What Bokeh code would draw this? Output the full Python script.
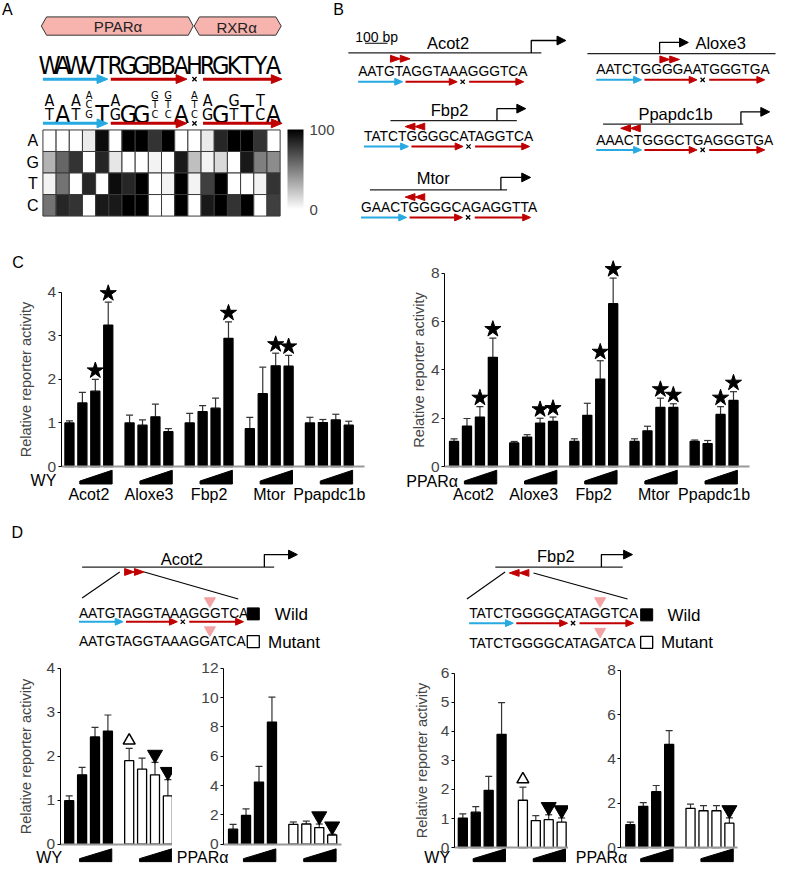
import numpy as np
from bokeh.plotting import figure
from bokeh.layouts import column, row
from bokeh.models import (Range1d, LinearAxis, FixedTicker, ColumnDataSource, Whisker,
                          TeeHead, LinearColorMapper, ColorBar)
from bokeh.core.properties import value
from bokeh.palettes import Greys256
from bokeh.embed import file_html
from bokeh.resources import INLINE

# ============================ DATA ============================
# Panel A: motif logo + heat map (0-100)
logo_consensus = list("WAWVTRGGBBAHRGKTYA")
logo_degenerate = ["AT", "A", "AT", "ACG", "T", "AG", "G", "G", "GTC", "GTC",
                   "A", "ATC", "AG", "G", "GT", "T", "TC", "A"]
heat_bases = ["A", "G", "T", "C"]
heat_A = [0, 0, 0, 8, 95, 0, 100, 100, 80, 100, 0, 0, 8, 85, 100, 100, 80, 0]
heat_G = [30, 60, 80, 0, 85, 10, 0, 0, 5, 0, 90, 25, 5, 15, 0, 90, 50, 45]
heat_T = [5, 55, 0, 85, 0, 95, 85, 100, 0, 5, 100, 5, 75, 100, 0, 0, 5, 80]
heat_C = [55, 85, 80, 0, 90, 90, 100, 100, 0, 0, 100, 0, 90, 100, 80, 100, 0, 75]
heat_ticks = [0, 100]

# Panel B: promoter response elements
b_genes = ["Acot2", "Aloxe3", "Fbp2", "Ppapdc1b", "Mtor"]
b_seqs = ["AATGTAGGTAAAGGGTCA", "AATCTGGGGAATGGGTGA", "TATCTGGGGCATAGGTCA",
          "AAACTGGGCTGAGGGTGA", "GAACTGGGGCAGAGGTTA"]
b_strand = ["+", "+", "-", "-", "-"]

# Panel C
c_genes = ["Acot2", "Aloxe3", "Fbp2", "Mtor", "Ppapdc1b"]
c_wy_mean = [[1.00, 1.46, 1.73, 3.24], [1.00, 0.95, 1.14, 0.80], [1.00, 1.26, 1.34, 2.94],
             [0.87, 1.67, 2.31, 2.30], [1.00, 1.01, 1.07, 0.95]]
c_wy_err = [[0.05, 0.24, 0.27, 0.53], [0.18, 0.12, 0.29, 0.07], [0.22, 0.14, 0.23, 0.38],
            [0.26, 0.61, 0.29, 0.25], [0.13, 0.07, 0.13, 0.09]]
c_wy_sig = [[0, 0, 1, 1], [0, 0, 0, 0], [0, 0, 0, 1], [0, 0, 1, 1], [0, 0, 0, 0]]
c_pp_mean = [[1.04, 1.67, 2.05, 4.52], [0.98, 1.22, 1.80, 1.87], [1.04, 2.12, 3.62, 6.74],
             [1.04, 1.48, 2.45, 2.45], [1.04, 0.95, 2.16, 2.74]]
c_pp_err = [[0.11, 0.32, 0.43, 0.80], [0.06, 0.10, 0.20, 0.18], [0.11, 0.50, 0.76, 1.06],
            [0.11, 0.19, 0.38, 0.15], [0.06, 0.13, 0.32, 0.36]]
c_pp_sig = [[0, 0, 1, 1], [0, 0, 1, 1], [0, 0, 1, 1], [0, 0, 1, 1], [0, 0, 1, 1]]
c_wy_ticks = [0, 1, 2, 3, 4]
c_pp_ticks = [0, 2, 4, 6, 8]

# Panel D
d_seq_acot2 = ["AATGTAGGTAAAGGGTCA", "AATGTAGGTAAAGGATCA"]
d_seq_fbp2 = ["TATCTGGGGCATAGGTCA", "TATCTGGGGCATAGATCA"]
d_variants = ["Wild", "Mutant"]
d_acot2_wy_wild = [0.99, 1.58, 2.44, 2.57]
d_acot2_wy_wild_err = [0.11, 0.17, 0.22, 0.37]
d_acot2_wy_mut = [1.90, 1.71, 1.58, 1.10]
d_acot2_wy_mut_err = [0.28, 0.25, 0.28, 0.37]
d_acot2_wy_mark = ["up", None, "down", "down"]
d_acot2_pp_wild = [1.03, 1.96, 4.24, 8.33]
d_acot2_pp_wild_err = [0.33, 0.45, 1.07, 1.71]
d_acot2_pp_mut = [1.36, 1.38, 1.14, 0.63]
d_acot2_pp_mut_err = [0.16, 0.20, 0.24, 0.06]
d_acot2_pp_mark = [None, None, "down", "down"]
d_fbp2_wy_wild = [1.01, 1.22, 1.97, 3.90]
d_fbp2_wy_wild_err = [0.15, 0.19, 0.48, 1.09]
d_fbp2_wy_mut = [1.63, 0.93, 0.96, 0.88]
d_fbp2_wy_mut_err = [0.45, 0.17, 0.17, 0.14]
d_fbp2_wy_mark = ["up", None, "down", "down"]
d_fbp2_pp_wild = [1.03, 1.86, 2.52, 4.65]
d_fbp2_pp_wild_err = [0.12, 0.17, 0.28, 0.62]
d_fbp2_pp_mut = [1.77, 1.66, 1.66, 1.10]
d_fbp2_pp_mut_err = [0.19, 0.23, 0.23, 0.24]
d_fbp2_pp_mark = [None, None, None, "down"]
d_acot2_wy_ticks = [0, 1, 2, 3, 4]
d_acot2_pp_ticks = [0, 2, 4, 6, 8, 10, 12]
d_fbp2_wy_ticks = [0, 1, 2, 3, 4, 5, 6]
d_fbp2_pp_ticks = [0, 2, 4, 6, 8]

YLABEL = "Relative reporter activity"

# ============================ STYLE ============================
FONT = value("Liberation Sans")
NARROW = value("DejaVu Sans Condensed")
BLUE = "#27a9e1"
RED = "#c00000"
PINK = "#f3a3a3"
TOTAL_W, TOTAL_H = 776, 868
REF_W, REF_H = 792, 884
SX, SY = TOTAL_W / REF_W, TOTAL_H / REF_H


def base_fig(w, h, xr, yr):
    p = figure(width=w, height=h, x_range=Range1d(*xr), y_range=Range1d(*yr),
               x_axis_type=None, y_axis_type=None, toolbar_location=None,
               output_backend="svg", min_border=0, outline_line_color=None)
    p.border_fill_color = "white"
    p.background_fill_color = "white"
    return p


def txt(p, x, y, s, size, align="center", baseline="middle", font=FONT, color="black", angle=0.0):
    p.text(x=[x], y=[y], text=[s], text_font=font, text_font_size=value(f"{size}px"),
           text_align=align, text_baseline=baseline, text_color=color, angle=angle)


def h_arrow(p, x0, x1, y, color, lw=2.0, hl=8.0, hh=7.0):
    p.segment(x0=[x0], y0=[y], x1=[x1 - hl + 1], y1=[y], line_color=color, line_width=lw)
    p.patch([x1 - hl, x1, x1 - hl], [y - hh / 2, y, y + hh / 2], color=color)


def motif_arrows(p, x0, cw, y, lw=2.0, hl=8.0, hh=7.0, xsize=6):
    h_arrow(p, x0, x0 + 5 * cw - 1, y, BLUE, lw, hl, hh)
    h_arrow(p, x0 + 5 * cw + 2, x0 + 11 * cw - 1, y, RED, lw, hl, hh)
    p.scatter([x0 + 11.5 * cw], [y], marker="x", size=xsize, line_color="black", line_width=1.3)
    h_arrow(p, x0 + 12 * cw + 2, x0 + 18 * cw + 2, y, RED, lw, hl, hh)


def double_heads(p, x0, y, strand, w=10.0, h=7.0):
    for k in range(2):
        if strand == "+":
            base, tip = x0 + k * w, x0 + (k + 1) * w
        else:
            tip, base = x0 + k * w, x0 + (k + 1) * w
        p.patch([base, tip, base], [y - h / 2, y, y + h / 2], color=RED)


def promoter(p, x, y_line, y_top, x_tip):
    p.line([x, x, x_tip - 8], [y_line, y_top, y_top], line_color="black", line_width=1.3)
    p.patch([x_tip - 9, x_tip, x_tip - 9], [y_top - 4.5, y_top, y_top + 4.5], color="black")


# ============================ TOP: panels A and B ============================
TOP_REF_H = 235
h_top = round(TOP_REF_H * SY)
top = base_fig(TOTAL_W, h_top, (0, REF_W), (TOP_REF_H, 0))

# --- Panel A
txt(top, 7, 9, "A", 16)
top.patch([41.7, 47, 191.7, 196.7, 191.7, 47], [26, 16.7, 16.7, 26, 35.3, 35.3],
          fill_color="#f7b3ad", line_color="#333333", line_width=1)
top.patch([197.7, 203, 281, 286.5, 281, 203], [26, 16.7, 16.7, 26, 35.3, 35.3],
          fill_color="#f7b3ad", line_color="#333333", line_width=1)
txt(top, 120, 26.5, "PPARα", 15, color="#222222")
txt(top, 241, 27, "RXRα", 15, color="#222222")

COL_X0, COL_W = 43.3, 13.45
col_cx = [COL_X0 + COL_W * (i + 0.5) for i in range(len(logo_consensus))]
top.text(x=col_cx, y=[66] * len(col_cx), text=logo_consensus, text_font=NARROW,
         text_font_size=value("25px"), text_align="center", text_baseline="alphabetic")
motif_arrows(top, COL_X0, COL_W, 80, lw=3, hl=11, hh=9, xsize=6)

# degenerate letters
sizes = {1: 25, 2: 16, 3: 11}
for cx, letters in zip(col_cx, logo_degenerate):
    n = len(letters)
    fs = sizes[n]
    step = 28.0 / n
    for k, ch in enumerate(letters):
        base = 115.5 - (n - 1 - k) * step
        txt(top, cx, base, ch, fs, baseline="alphabetic", font=NARROW)
motif_arrows(top, COL_X0, COL_W, 125, lw=3, hl=11, hh=9, xsize=6)

# heat map
ROW_Y0, ROW_H = 131.7, 21.9
heat_rows = [heat_A, heat_G, heat_T, heat_C]
hx, hy, hv = [], [], []
for r, vals in enumerate(heat_rows):
    for c, v in enumerate(vals):
        hx.append(col_cx[c])
        hy.append(ROW_Y0 + ROW_H * (r + 0.5))
        hv.append(v)
mapper = LinearColorMapper(palette=list(reversed(Greys256)), low=heat_ticks[0], high=heat_ticks[-1])
top.rect(x="x", y="y", width=COL_W, height=ROW_H,
         source=ColumnDataSource(dict(x=hx, y=hy, v=hv)),
         fill_color={"field": "v", "transform": mapper}, line_color="#3a3a3a", line_width=1)
for r, b in enumerate(heat_bases):
    txt(top, 33, ROW_Y0 + ROW_H * (r + 0.5), b, 16)
cb = ColorBar(color_mapper=mapper, location=(round(293 * SX), round((TOP_REF_H - 213) * SY)),
              width=16, height=round(81 * SY), padding=0,
              ticker=FixedTicker(ticks=heat_ticks), major_tick_line_color=None,
              minor_tick_line_color=None, major_label_text_font="Liberation Sans",
              major_label_text_font_size="15px", label_standoff=6, bar_line_color=None,
              border_line_color=None, background_fill_alpha=0)
top.add_layout(cb)

# --- Panel B
txt(top, 345, 9, "B", 16)
txt(top, 362, 37, "100 bp", 14, align="left")
top.segment(x0=[372], y0=[43.5], x1=[395], y1=[43.5], line_color="black", line_width=1.2)
b_layout = {
    "Acot2": dict(line=(355, 552, 53.3), prom=(541.7, 40.7, 577), label=(456.7, 43.3),
                  heads=(398, 59.3), seq=(365, 532, 72.7)),
    "Aloxe3": dict(line=(599, 791, 54), prom=(672.7, 42.7, 702), label=(735, 43.3),
                   heads=(673, 60), seq=(608, 778, 70.7)),
    "Fbp2": dict(line=(398, 527, 122.3), prom=(506.7, 110, 536), label=(458.3, 111.7),
                 heads=(413, 128.3), seq=(371, 538, 138.5)),
    "Ppapdc1b": dict(line=(615, 758, 125.7), prom=(755.7, 113.3, 785), label=(689, 115.5),
                     heads=(633, 130), seq=(608, 778, 142)),
    "Mtor": dict(line=(377, 517, 192.7), prom=(510.7, 180, 541), label=(441.7, 180.7),
                 heads=(413, 200), seq=(368, 539, 210.7)),
}
for g, s, strand in zip(b_genes, b_seqs, b_strand):
    L = b_layout[g]
    x0, x1, ly = L["line"]
    top.segment(x0=[x0], y0=[ly], x1=[x1], y1=[ly], line_color="#222222", line_width=1.2)
    promoter(top, L["prom"][0], ly, L["prom"][1], L["prom"][2])
    txt(top, L["label"][0], L["label"][1], g, 16.5)
    double_heads(top, L["heads"][0], L["heads"][1], strand)
    sx0, sx1, sy = L["seq"]
    txt(top, sx0, sy, s, 13.8, align="left")
    motif_arrows(top, sx0, (sx1 - sx0) / 18.0, sy + 10)

# ============================ BAR CHARTS ============================
XU, GSTEP, BW = 13.2, 4.65, 0.7


def bar_chart(w, h, box, X0, axisX, Y0, ppu, ticks, groups, ylabel, ystand,
              dose, dose_right, dose_y, wedge_y, genes=None, gene_y=None, base_ext=1.2,
              panel=None):
    L, R, T, B = box
    fx = lambda px: (px - X0) / XU
    fy = lambda py: (Y0 - py) / ppu
    p = base_fig(w, h, (fx(L), fx(R)), (fy(B), fy(T)))
    xs, means, tops, fills = [], [], [], []
    marks = {"star": ([], []), "up": ([], []), "down": ([], [])}
    for gi, (mean, err, fill, mk) in enumerate(groups):
        for i in range(len(mean)):
            x = gi * GSTEP + i
            xs.append(x)
            means.append(mean[i])
            tops.append(mean[i] + err[i])
            fills.append(fill)
            if mk[i]:
                off = 9.0 if mk[i] == "star" else 8.0
                marks[mk[i]][0].append(x)
                marks[mk[i]][1].append(mean[i] + err[i] + off / ppu)
    src = ColumnDataSource(dict(x=xs, mean=means, top=tops, fill=fills))
    p.vbar(x="x", top="mean", bottom=0, width=BW, fill_color="fill", line_color="black",
           line_width=1.3, source=src)
    p.add_layout(Whisker(source=src, base="x", lower="mean", upper="top", dimension="height",
                         lower_head=None,
                         upper_head=TeeHead(size=7, line_color="#333333", line_width=1.2),
                         line_color="#333333", line_width=1.2))
    if marks["star"][0]:
        p.scatter(marks["star"][0], marks["star"][1], marker="star", size=17, color="black")
    if marks["up"][0]:
        p.scatter(marks["up"][0], marks["up"][1], marker="triangle", size=12,
                  fill_color="white", line_color="black", line_width=1.5)
    if marks["down"][0]:
        p.scatter(marks["down"][0], marks["down"][1], marker="inverted_triangle", size=15,
                  color="black")
    # dose wedges
    wt, wb = fy(wedge_y[0]), fy(wedge_y[1])
    wl_ = fy(wedge_y[1] - 3)
    wx, wy = [], []
    for gi in range(len(groups)):
        g0 = gi * GSTEP
        wx.append([g0 + 0.8, g0 + 3.3, g0 + 3.3, g0 + 0.8])
        wy.append([wb, wb, wt, wl_])
    p.patches(wx, wy, color="black")
    txt(p, fx(dose_right), fy(dose_y), dose, 16, align="right")
    if genes:
        for gi, g in enumerate(genes):
            txt(p, gi * GSTEP + 1.5, fy(gene_y), g, 16)
    if panel:
        txt(p, fx(panel[1]), fy(panel[2]), panel[0], 16)
    # axes
    yax = LinearAxis(fixed_location=fx(axisX), ticker=FixedTicker(ticks=ticks),
                     bounds=(ticks[0], ticks[-1]), axis_label=ylabel)
    yax.axis_line_color = "black"
    yax.axis_line_width = 1
    yax.major_tick_in = 0
    yax.major_tick_out = 3
    yax.minor_tick_line_color = None
    yax.major_label_text_font = "Liberation Sans"
    yax.major_label_text_font_size = "15.5px"
    yax.major_label_standoff = 2
    yax.axis_label_text_font = "Liberation Sans"
    yax.axis_label_text_font_style = "normal"
    yax.axis_label_text_font_size = "14.5px"
    yax.axis_label_standoff = ystand
    p.add_layout(yax, "left")
    last = (len(groups) - 1) * GSTEP + 3
    xax = LinearAxis(fixed_location=0, ticker=FixedTicker(ticks=[]),
                     bounds=(fx(axisX), last + base_ext))
    xax.axis_line_color = "#999999"
    xax.axis_line_width = 2
    xax.major_tick_line_color = None
    xax.minor_tick_line_color = None
    p.add_layout(xax, "below")
    return p


# --- Panel C
C_T, C_B = 235, 520
h_c = round(C_B * SY) - h_top
wl = round(390 * SX)
wr = TOTAL_W - wl
c_wy_groups = [(m, e, "black", ["star" if s else None for s in sg])
               for m, e, sg in zip(c_wy_mean, c_wy_err, c_wy_sig)]
c_pp_groups = [(m, e, "black", ["star" if s else None for s in sg])
               for m, e, sg in zip(c_pp_mean, c_pp_err, c_pp_sig)]
cl = bar_chart(wl, h_c, (0, 390, C_T, C_B), 70.4, 62, 474.3, 44.4, c_wy_ticks, c_wy_groups,
               YLABEL, 11, "WY", 57, 488, (478, 492), genes=c_genes, gene_y=503,
               panel=("C", 18, 267))
cr = bar_chart(wr, h_c, (390, 792, C_T, C_B), 463, 453.3, 474.3, 24.6, c_pp_ticks, c_pp_groups,
               YLABEL, 1, "PPARα", 467, 489, (478, 492), genes=c_genes, gene_y=503)

# --- Panel D diagrams
DD_T, DD_B = 520, 668
h_dd = round(DD_B * SY) - round(C_B * SY)
dd = base_fig(TOTAL_W, h_dd, (0, REF_W), (DD_B, DD_T))
txt(dd, 17, 541, "D", 16)
d_layout = [
    dict(gene="Acot2", seqs=d_seq_acot2, strand="+", label=(185, 568.3), line=(83.3, 279.3, 576.7),
         prom=(269.3, 564, 303), heads=(126.7, 581.7),
         zoom=[(121.7, 581.7, 83.3, 608.3), (146.7, 581.7, 242.7, 609.3)],
         seq=(80, 246, 624.3, 652.3), arr_y=632.5, sq=(258, 624.5, 652.8), lab=(280, 273)),
    dict(gene="Fbp2", seqs=d_seq_fbp2, strand="-", label=(566.7, 565), line=(505, 635, 576.7),
         prom=(613.3, 564, 645), heads=(519.3, 582.7),
         zoom=[(515, 581.7, 476, 609.3), (544, 582.7, 640, 609.3)],
         seq=(478.3, 644.3, 624.3, 654.3), arr_y=634, sq=(659.5, 625.5, 653.5), lab=(680.7, 674)),
]
for D in d_layout:
    txt(dd, D["label"][0], D["label"][1], D["gene"], 16.5)
    x0, x1, ly = D["line"]
    dd.segment(x0=[x0], y0=[ly], x1=[x1], y1=[ly], line_color="#222222", line_width=1.2)
    promoter(dd, D["prom"][0], ly, D["prom"][1], D["prom"][2])
    double_heads(dd, D["heads"][0], D["heads"][1], D["strand"])
    for zx0, zy0, zx1, zy1 in D["zoom"]:
        dd.segment(x0=[zx0], y0=[zy0], x1=[zx1], y1=[zy1], line_color="black", line_width=1.1)
    sx0, sx1, sy_w, sy_m = D["seq"]
    cw = (sx1 - sx0) / 18.0
    txt(dd, sx0, sy_w, D["seqs"][0], 13.8, align="left")
    txt(dd, sx0, sy_m, D["seqs"][1], 13.8, align="left")
    motif_arrows(dd, sx0, cw, D["arr_y"])
    mut_idx = [i for i, (a, b) in enumerate(zip(D["seqs"][0], D["seqs"][1])) if a != b][0]
    dd.scatter([sx0 + (mut_idx + 0.5) * cw] * 2, [sy_w - 13, D["arr_y"] + 8.5],
               marker="inverted_triangle", size=11, color=PINK)
    sqx, sqy_w, sqy_m = D["sq"]
    dd.scatter([sqx], [sqy_w], marker="square", size=12, color="black")
    dd.scatter([sqx], [sqy_m], marker="square", size=12, fill_color="white",
               line_color="black", line_width=1.3)
    txt(dd, D["lab"][0], sqy_w + 0.5, d_variants[0], 17, align="left")
    txt(dd, D["lab"][1], sqy_m + 0.5, d_variants[1], 17, align="left")

# --- Panel D bar charts
DB_T, DB_B = 668, 884
h_db = TOTAL_H - round(DD_B * SY)
w1 = round(176 * SX)
w2 = round(395 * SX) - w1
w3 = round(580 * SX) - w1 - w2
w4 = TOTAL_W - w1 - w2 - w3
none4 = [None] * 4
DOSE_Y, WEDGE_Y = 873, (864, 877)
d1 = bar_chart(w1, h_db, (0, 176, DB_T, DB_B), 70.3, 61, 859.3, 44.8, d_acot2_wy_ticks,
               [(d_acot2_wy_wild, d_acot2_wy_wild_err, "black", none4),
                (d_acot2_wy_mut, d_acot2_wy_mut_err, "white", d_acot2_wy_mark)],
               YLABEL, 10, "WY", 63, DOSE_Y, WEDGE_Y, base_ext=0.55)
d2 = bar_chart(w2, h_db, (176, 395, DB_T, DB_B), 237.7, 228, 859.3, 14.94, d_acot2_pp_ticks,
               [(d_acot2_pp_wild, d_acot2_pp_wild_err, "black", none4),
                (d_acot2_pp_mut, d_acot2_pp_mut_err, "white", d_acot2_pp_mark)],
               "", 0, "PPARα", 233, DOSE_Y, WEDGE_Y, base_ext=0.7)
d3 = bar_chart(w3, h_db, (395, 580, DB_T, DB_B), 472, 463.3, 862.7, 29.6, d_fbp2_wy_ticks,
               [(d_fbp2_wy_wild, d_fbp2_wy_wild_err, "black", none4),
                (d_fbp2_wy_mut, d_fbp2_wy_mut_err, "white", d_fbp2_wy_mark)],
               YLABEL, 8, "WY", 459, DOSE_Y, WEDGE_Y, base_ext=0.65)
d4 = bar_chart(w4, h_db, (580, 792, DB_T, DB_B), 643, 633.3, 862.7, 22.6, d_fbp2_pp_ticks,
               [(d_fbp2_pp_wild, d_fbp2_pp_wild_err, "black", none4),
                (d_fbp2_pp_mut, d_fbp2_pp_mut_err, "white", d_fbp2_pp_mark)],
               "", 0, "PPARα", 640, DOSE_Y, WEDGE_Y, base_ext=0.6)

layout = column(top, row(cl, cr, spacing=0), dd, row(d1, d2, d3, d4, spacing=0), spacing=0)
open("out.html", "w").write(file_html(layout, INLINE))
